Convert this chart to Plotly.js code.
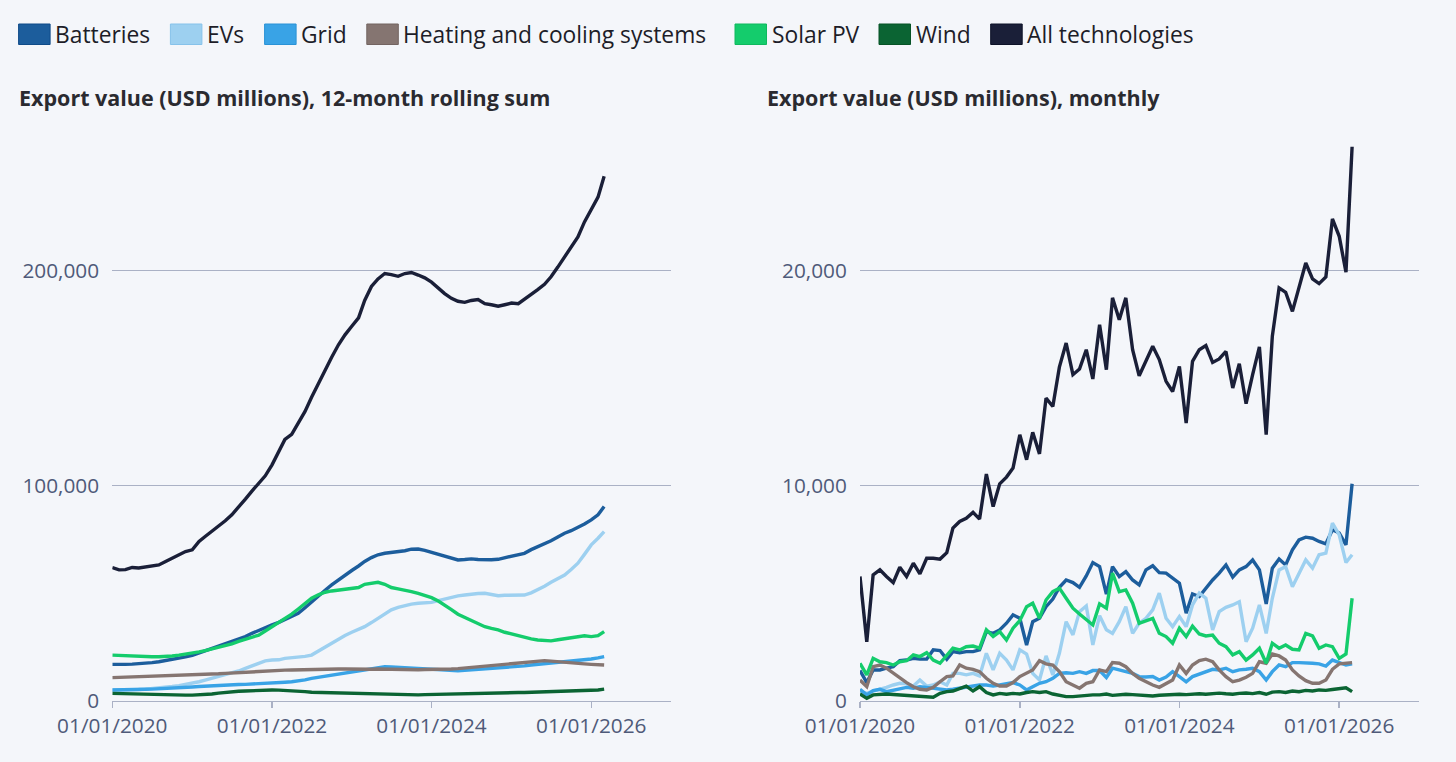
<!DOCTYPE html>
<html>
<head>
<meta charset="utf-8">
<script src="https://cdn.plot.ly/plotly-3.0.1.min.js"></script>
<style>
  html, body { margin: 0; padding: 0; background: #f4f6fa; }
  #chart { width: 1456px; height: 762px; }
</style>
</head>
<body>
<div id="chart"></div>
<script>
// ---------------- DATA ----------------
const months = [
  '2020-01-01','2020-02-01','2020-03-01','2020-04-01','2020-05-01','2020-06-01','2020-07-01','2020-08-01','2020-09-01','2020-10-01','2020-11-01','2020-12-01',
  '2021-01-01','2021-02-01','2021-03-01','2021-04-01','2021-05-01','2021-06-01','2021-07-01','2021-08-01','2021-09-01','2021-10-01','2021-11-01','2021-12-01',
  '2022-01-01','2022-02-01','2022-03-01','2022-04-01','2022-05-01','2022-06-01','2022-07-01','2022-08-01','2022-09-01','2022-10-01','2022-11-01','2022-12-01',
  '2023-01-01','2023-02-01','2023-03-01','2023-04-01','2023-05-01','2023-06-01','2023-07-01','2023-08-01','2023-09-01','2023-10-01','2023-11-01','2023-12-01',
  '2024-01-01','2024-02-01','2024-03-01','2024-04-01','2024-05-01','2024-06-01','2024-07-01','2024-08-01','2024-09-01','2024-10-01','2024-11-01','2024-12-01',
  '2025-01-01','2025-02-01','2025-03-01','2025-04-01','2025-05-01','2025-06-01','2025-07-01','2025-08-01','2025-09-01','2025-10-01','2025-11-01','2025-12-01',
  '2026-01-01','2026-02-01','2026-03-01'
];

const seriesNames = ['Batteries','EVs','Grid','Heating and cooling systems','Solar PV','Wind','All technologies'];

// 12-month rolling sum, USD millions
const batteriesRolling = [16900,16800,16900,17000,17100,17400,17700,18100,18600,19100,19700,20400,21100,22200,23200,24300,25300,26300,27400,28500,29800,31300,32700,34200,35200,36400,37600,39000,40600,43200,46000,48700,51300,53800,56200,58400,60500,62600,64700,66500,67800,68500,68800,69000,69700,70400,70500,69900,69000,68100,67000,66000,65400,65600,65900,65600,65400,65500,65700,66300,67000,67600,68500,70200,71600,72800,74300,76100,77800,79000,80500,82100,84000,86400,90200];
const evsRolling = [5000,5000,5100,5100,5200,5400,5600,5900,6200,6600,7000,7500,8100,8800,9600,10400,11200,12000,12700,13800,15000,16200,17600,18500,18900,19000,19700,19900,20200,20600,21200,23000,25100,27000,28700,30300,31800,33000,34400,36300,38300,40400,42200,43400,44200,44900,45300,45400,45700,46500,47300,48000,48700,49100,49500,49800,49900,49300,48800,49000,49100,49000,49100,50100,51500,53200,55000,56700,58400,61000,63900,68000,72400,75500,78600];
const gridRolling = [5000,5000,5000,5100,5200,5300,5400,5500,5700,5800,6000,6200,6400,6600,6800,7000,7100,7200,7300,7500,7600,7700,7800,8000,8100,8300,8600,8800,9100,9700,10400,10900,11400,11900,12500,13000,13500,14000,14500,15000,15400,15800,15700,15500,15400,15300,15100,14900,14700,14400,14100,13800,13900,14100,14300,14500,14800,15000,15200,15400,15500,15800,16200,16600,16900,17100,17400,17600,17900,18100,18500,19000,19400,19900,20500];
const heatingRolling = [10700,10800,10900,11000,11100,11200,11200,11300,11400,11500,11600,11800,12000,12100,12200,12400,12500,12700,12900,13000,13200,13400,13600,13700,13900,14000,14200,14300,14400,14500,14600,14600,14700,14700,14700,14700,14600,14600,14500,14600,14700,14600,14500,14400,14300,14300,14400,14500,14500,14600,14600,14700,14900,15200,15500,15800,16100,16300,16600,16900,17200,17500,17900,18200,18600,18600,18400,18100,17700,17400,17200,17100,16900,16800,16600];
const solarRolling = [21200,21000,20900,20800,20600,20500,20400,20400,20500,20800,21200,21600,22000,22700,23300,24000,24800,25600,26400,27600,28700,29600,30500,32400,34400,36200,38000,40200,42600,45200,47600,49200,50400,51000,51500,51800,52200,52600,54100,54600,55000,54100,52600,52000,51500,50700,49900,49000,47900,46300,44500,42300,40200,38800,37500,35900,34400,33600,32900,31800,30900,30100,29300,28700,28200,27900,27800,28300,28700,29100,29800,30200,29800,30200,32100];
const windRolling = [3400,3300,3200,3100,3000,2900,2800,2800,2700,2700,2600,2600,2600,2700,2900,3100,3500,3900,4200,4400,4500,4700,4800,4900,5000,4900,4800,4600,4500,4200,3900,3800,3700,3600,3500,3400,3300,3300,3200,3200,3100,3000,2800,2700,2600,2600,2700,2800,2900,3000,3100,3200,3300,3400,3400,3500,3600,3600,3700,3700,3700,3800,3800,3900,3900,4000,4000,4100,4200,4300,4400,4500,4800,5000,5400];
const allRolling = [61900,60800,60900,61900,61700,62300,62600,63100,64700,66200,68100,69300,70100,74000,76300,78600,80900,83600,86400,89800,93700,97400,100800,104500,109600,115600,121400,123800,129000,134400,141000,147500,153800,159600,165400,170000,174000,177900,186000,192500,196000,198500,198000,197200,198500,199000,197800,196500,194500,191500,189200,187000,185600,185100,186000,186400,184500,184000,183300,184000,184800,184500,186500,188500,191000,193500,197000,201500,206000,210500,215500,222500,228000,234000,243700];

// Monthly, USD millions
const batteriesMonthly = [1400,840,1430,1430,1510,1580,1860,1890,1970,1930,1930,2360,2330,1930,2280,2230,2280,2280,2360,3210,3130,3290,3600,3990,3830,2590,3670,3830,4370,4720,5270,5610,5490,5270,5800,6420,6230,4950,6230,5770,6000,5610,5380,6080,6270,5950,5930,5690,5460,4070,4960,4840,5230,5610,5930,6310,5740,6080,6230,6540,6080,4500,6160,6580,6310,7010,7470,7600,7550,7400,7290,7940,7790,7240,10080];
const evsMonthly = [420,340,450,530,620,730,810,780,680,960,680,730,880,730,1270,1270,1200,1270,1150,2200,1430,2200,1890,1430,2360,2170,1270,960,2080,1200,2200,3670,3060,4140,4400,2590,3950,3300,3130,3670,4370,3130,3600,3830,4220,5000,3830,3440,3910,3440,4450,5000,4760,3290,4140,4340,4450,4600,2740,3370,4450,3130,4760,6080,6230,5300,5930,6540,6160,6780,6860,8250,7710,6420,6780];
const gridMonthly = [530,270,470,530,420,500,580,620,580,650,620,580,530,500,530,580,650,680,730,730,680,730,780,840,730,500,650,810,880,1040,1270,1300,1270,1350,1270,1400,1400,1080,1510,1430,1350,1270,1120,1100,1120,960,1100,1350,1120,880,1120,1240,1350,1460,1430,1510,1350,1430,1460,1510,1350,960,1350,1660,1580,1770,1770,1770,1740,1710,1610,1890,1770,1660,1710];
const heatingMonthly = [960,650,1580,1660,1510,1270,1040,840,650,530,500,620,880,1120,1150,1660,1510,1460,1350,1040,810,680,680,840,1120,1300,1430,1860,1710,1660,1350,880,730,580,810,880,1430,1350,1770,1740,1580,1270,1040,880,730,620,810,960,1660,1270,1660,1860,1930,1810,1430,1120,880,960,1090,1270,1810,1740,2170,2080,1890,1430,1150,930,810,810,960,1460,1710,1740,1770];
const solarMonthly = [1740,1200,1970,1810,1770,1660,1810,1860,2130,2050,2230,1890,1740,2130,2440,2360,2510,2540,2440,3290,2980,3210,2820,3370,3720,4370,4530,3830,4680,5070,5230,4760,4300,4030,3750,3520,4500,4300,5930,5070,5150,4530,3600,3720,3830,3130,2980,2670,3370,2980,3470,3100,3010,3050,2670,2510,2130,2280,1890,2130,2440,1740,2670,2440,2590,2390,2360,3130,3010,2440,2590,2510,1970,2170,4760];
const windMonthly = [310,110,270,310,310,290,270,220,220,190,160,160,340,420,450,580,680,450,650,380,270,340,300,340,310,380,420,380,420,310,270,190,190,220,250,270,270,310,250,270,300,280,250,240,220,250,270,280,300,280,300,320,300,330,350,320,300,340,360,330,380,300,400,420,380,450,420,480,450,500,480,520,550,600,420];
const allMonthly = [5770,2740,5850,6080,5770,5490,6200,5770,6390,5890,6620,6620,6580,6880,8020,8330,8480,8750,8440,10530,9020,10080,10390,10810,12360,11200,12470,11470,14060,13670,15500,16620,15150,15410,16310,14950,17470,15380,18720,17700,18720,16310,15100,15770,16470,15850,14840,14370,15530,12900,15770,16310,16500,15720,15880,16230,14530,15660,13800,15150,16440,12360,16930,19180,18980,18090,19260,20340,19600,19380,19690,22390,21580,19910,25740];

const xTickVals = ['2020-01-01','2022-01-01','2024-01-01','2026-01-01'];
const xTickText = ['01/01/2020','01/01/2022','01/01/2024','01/01/2026'];
const yTickValsLeft = [0, 100000, 200000];
const yTickValsRight = [0, 10000, 20000];

// ---------------- STYLE ----------------
const seriesColors = ['#1c5d9c','#9dd0f0','#39a3e6','#857571','#14cc6c','#0b6433','#1a1f38'];
const swatchBorders = ['#0f4b88','#86c2ea','#2a92d6','#736461','#0fb85e','#075326','#0d1228'];
const W = 1456, H = 762;
const gridColor = '#aab1c5';
const tickColor = '#4f5a79';
const FONT = 'Open Sans, Noto Sans, sans-serif';

const rollingSets = [batteriesRolling, evsRolling, gridRolling, heatingRolling, solarRolling, windRolling, allRolling];
const monthlySets = [batteriesMonthly, evsMonthly, gridMonthly, heatingMonthly, solarMonthly, windMonthly, allMonthly];

const traces = [];
rollingSets.forEach((ys, k) => {
  traces.push({x: months, y: ys, type: 'scatter', mode: 'lines', name: seriesNames[k],
    line: {color: seriesColors[k], width: 3.4}, xaxis: 'x', yaxis: 'y', hoverinfo: 'skip'});
});
monthlySets.forEach((ys, k) => {
  traces.push({x: months, y: ys, type: 'scatter', mode: 'lines', name: seriesNames[k],
    line: {color: seriesColors[k], width: 3.4}, xaxis: 'x2', yaxis: 'y2', hoverinfo: 'skip'});
});

const px = v => v / W;
const py = v => 1 - v / H;

// legend (manual, square swatches)
const legendSwatchX = [18.6, 170.4, 264.6, 366.8, 735, 879, 990.7];
const swW = 31.5, swTop = 24, swBot = 44.5, legendMidY = 34.5;
const shapes = [];
const annotations = [];
seriesNames.forEach((n, k) => {
  const x0 = legendSwatchX[k];
  shapes.push({type: 'rect', xref: 'paper', yref: 'paper',
    x0: px(x0), x1: px(x0 + swW), y0: py(swBot), y1: py(swTop),
    fillcolor: seriesColors[k], line: {color: swatchBorders[k], width: 1}});
  annotations.push({xref: 'paper', yref: 'paper', x: px(x0 + swW + 3), y: py(legendMidY),
    xanchor: 'left', yanchor: 'middle', showarrow: false, text: n,
    font: {family: FONT, size: 22.8, color: '#1d1d28'}});
});
annotations.push({xref: 'paper', yref: 'paper', x: px(16.5), y: py(97), xanchor: 'left', yanchor: 'middle',
  showarrow: false, text: '<b>Export value (USD millions), 12-month rolling sum</b>',
  font: {family: FONT, size: 21.5, color: '#2a2a30'}});
annotations.push({xref: 'paper', yref: 'paper', x: px(764.5), y: py(97), xanchor: 'left', yanchor: 'middle',
  showarrow: false, text: '<b>Export value (USD millions), monthly</b>',
  font: {family: FONT, size: 21.5, color: '#2a2a30'}});

const plotTop = 130, plotBottom = 700.7;
const xCommon = {
  type: 'date', range: ['2020-01-01', '2027-01-01'],
  tickmode: 'array', tickvals: xTickVals, ticktext: xTickText,
  ticks: 'outside', ticklen: 6, tickwidth: 1.5, tickcolor: gridColor,
  showline: true, linecolor: gridColor, linewidth: 1.5,
  showgrid: false, zeroline: false, fixedrange: true,
  tickfont: {family: FONT, size: 20.8, color: tickColor}
};
const yCommon = {
  domain: [py(plotBottom), py(plotTop)],
  tickmode: 'array', tickformat: ',d',
  showgrid: true, gridcolor: gridColor, gridwidth: 1.5,
  zeroline: false, showline: false,
  ticks: 'outside', ticklen: 8, tickcolor: 'rgba(0,0,0,0)',
  fixedrange: true,
  tickfont: {family: FONT, size: 20.8, color: tickColor}
};

const layout = {
  width: W, height: H,
  margin: {l: 0, r: 0, t: 0, b: 0},
  paper_bgcolor: '#f4f6fa', plot_bgcolor: '#f4f6fa',
  showlegend: false,
  font: {family: FONT, color: tickColor},
  xaxis: Object.assign({}, xCommon, {domain: [px(112.3), px(671)], anchor: 'y'}),
  yaxis: Object.assign({}, yCommon, {anchor: 'x', range: [0, 265200], tickvals: yTickValsLeft}),
  xaxis2: Object.assign({}, xCommon, {domain: [px(860), px(1419)], anchor: 'y2'}),
  yaxis2: Object.assign({}, yCommon, {anchor: 'x2', range: [0, 26520], tickvals: yTickValsRight}),
  shapes: shapes,
  annotations: annotations
};

Plotly.newPlot('chart', traces, layout, {displayModeBar: false, staticPlot: true});
</script>
</body>
</html>
